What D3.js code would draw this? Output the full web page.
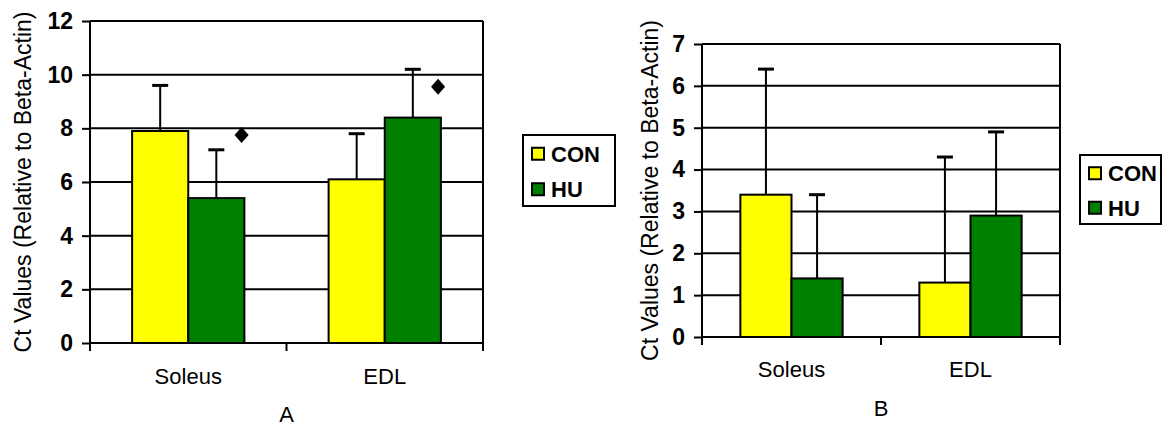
<!DOCTYPE html>
<meta charset="utf-8">
<title>Ct values</title>
<body>
<script src="https://cdn.jsdelivr.net/npm/d3@7"></script>
<style>
html, body {
    margin: 0;
    background: #fff;
}
svg {
    display: block;
    font-family: "Liberation Sans", Arial, sans-serif;
}
</style>
<script>
var categories = ["Soleus", "EDL"],
    series = ["CON", "HU"],
    colors = ["#ffff00", "#008000"];

// panel A
var aCon = [7.9, 6.1],
    aHu = [5.4, 8.4],
    aConSd = [1.7, 1.7],
    aHuSd = [1.8, 1.8],
    aMarks = [7.75, 9.55],
    aTicks = [0, 2, 4, 6, 8, 10, 12];

// panel B
var bCon = [3.4, 1.3],
    bHu = [1.4, 2.9],
    bConSd = [3.0, 3.0],
    bHuSd = [2.0, 2.0],
    bTicks = [0, 1, 2, 3, 4, 5, 6, 7];

var width = 1162,
    height = 426;

var svg = d3.select("body").append("svg")
    .attr("width", width)
    .attr("height", height);

drawPanel({
    left: 90, right: 483, top: 21, bottom: 343,
    ymax: 12, ticks: aTicks,
    values: [aCon, aHu], sds: [aConSd, aHuSd], marks: aMarks,
    labelX: 31, catY: 384,
    letter: "A", letterY: 422,
    legend: {x: 523, y: 135, w: 92, h: 71}
});

drawPanel({
    left: 702, right: 1060, top: 44, bottom: 337,
    ymax: 7, ticks: bTicks,
    values: [bCon, bHu], sds: [bConSd, bHuSd], marks: null,
    labelX: 658, catY: 377,
    letter: "B", letterY: 416,
    legend: {x: 1080, y: 155, w: 81, h: 69}
});

function drawPanel(c) {
    var g = svg.append("g");

    var x0 = d3.scaleBand()
        .domain(categories)
        .range([c.left, c.right])
        .paddingInner(0)
        .paddingOuter(0);

    var x1 = d3.scaleBand()
        .domain(series)
        .range([0, x0.bandwidth()])
        .paddingInner(0)
        .paddingOuter(0.75);

    var y = d3.scaleLinear()
        .domain([0, c.ymax])
        .range([c.bottom, c.top]);

    // gridlines
    g.append("g")
        .selectAll("line")
        .data(c.ticks.filter(function(d) { return d > 0; }))
        .enter().append("line")
        .attr("x1", c.left).attr("x2", c.right)
        .attr("y1", function(d) { return y(d); })
        .attr("y2", function(d) { return y(d); })
        .attr("stroke", "#000")
        .attr("stroke-width", 2);

    // right border
    g.append("line")
        .attr("x1", c.right).attr("x2", c.right)
        .attr("y1", c.top).attr("y2", c.bottom)
        .attr("stroke", "#000")
        .attr("stroke-width", 2);

    // y axis
    var yAxis = g.append("g")
        .attr("transform", "translate(" + c.left + ",0)")
        .call(d3.axisLeft(y).tickValues(c.ticks).tickSize(8).tickPadding(9).tickFormat(d3.format("d")));
    yAxis.select(".domain").attr("stroke-width", 2).attr("d", "M0," + c.top + "V" + c.bottom);
    yAxis.selectAll(".tick line").attr("stroke-width", 2);
    yAxis.selectAll(".tick text")
        .attr("font-family", "Liberation Sans, Arial, sans-serif")
        .attr("font-size", 23)
        .attr("font-weight", "bold")
        .attr("fill", "#000");

    // bars
    var groups = g.append("g")
        .selectAll("g")
        .data(categories)
        .enter().append("g")
        .attr("transform", function(d) { return "translate(" + x0(d) + ",0)"; });

    series.forEach(function(s, si) {
        groups.append("rect")
            .attr("x", x1(s))
            .attr("y", function(d, i) { return y(c.values[si][i]); })
            .attr("width", x1.bandwidth())
            .attr("height", function(d, i) { return y(0) - y(c.values[si][i]); })
            .attr("fill", colors[si])
            .attr("stroke", "#000")
            .attr("stroke-width", 2);

        var cx = x1(s) + x1.bandwidth() / 2;
        groups.append("line")
            .attr("x1", cx).attr("x2", cx)
            .attr("y1", function(d, i) { return y(c.values[si][i]); })
            .attr("y2", function(d, i) { return y(c.values[si][i] + c.sds[si][i]); })
            .attr("stroke", "#000")
            .attr("stroke-width", 2);
        groups.append("line")
            .attr("x1", cx - 8).attr("x2", cx + 8)
            .attr("y1", function(d, i) { return y(c.values[si][i] + c.sds[si][i]); })
            .attr("y2", function(d, i) { return y(c.values[si][i] + c.sds[si][i]); })
            .attr("stroke", "#000")
            .attr("stroke-width", 3);
    });

    // significance markers
    if (c.marks) {
        groups.append("path")
            .attr("d", d3.symbol().type(d3.symbolSquare).size(108))
            .attr("transform", function(d, i) {
                var mx = x1("HU") + x1.bandwidth() * 0.95;
                return "translate(" + mx + "," + y(c.marks[i]) + ") scale(0.96,1.1) rotate(45)";
            })
            .attr("fill", "#000");
    }

    // x axis
    g.append("line")
        .attr("x1", c.left).attr("x2", c.right)
        .attr("y1", c.bottom).attr("y2", c.bottom)
        .attr("stroke", "#000")
        .attr("stroke-width", 2);
    g.append("g")
        .selectAll("line")
        .data(d3.range(categories.length + 1))
        .enter().append("line")
        .attr("x1", function(i) { return c.left + i * x0.step(); })
        .attr("x2", function(i) { return c.left + i * x0.step(); })
        .attr("y1", c.bottom).attr("y2", c.bottom + 8)
        .attr("stroke", "#000")
        .attr("stroke-width", 2);

    g.append("g")
        .selectAll("text")
        .data(categories)
        .enter().append("text")
        .attr("x", function(d) { return x0(d) + x0.bandwidth() / 2; })
        .attr("y", c.catY)
        .attr("text-anchor", "middle")
        .attr("font-size", 22)
        .text(function(d) { return d; });

    // y label
    g.append("text")
        .attr("transform", "translate(" + c.labelX + "," + (c.top + c.bottom) / 2 + ") rotate(-90)")
        .attr("text-anchor", "middle")
        .attr("font-size", 23)
        .text("Ct Values (Relative to Beta-Actin)");

    g.append("text")
        .attr("x", (c.left + c.right) / 2)
        .attr("y", c.letterY)
        .attr("text-anchor", "middle")
        .attr("font-size", 22)
        .text(c.letter);

    // legend
    var lg = g.append("g")
        .attr("transform", "translate(" + c.legend.x + "," + c.legend.y + ")");
    lg.append("rect")
        .attr("width", c.legend.w)
        .attr("height", c.legend.h)
        .attr("fill", "#fff")
        .attr("stroke", "#000")
        .attr("stroke-width", 2);
    var rowH = c.legend.h / 2;
    series.forEach(function(s, si) {
        var cy = rowH * si + rowH / 2 + 1;
        lg.append("rect")
            .attr("x", 9)
            .attr("y", cy - 6)
            .attr("width", 12)
            .attr("height", 12)
            .attr("fill", colors[si])
            .attr("stroke", "#000")
            .attr("stroke-width", 2);
        lg.append("text")
            .attr("x", 28)
            .attr("y", cy + 8)
            .attr("font-size", 22)
            .attr("font-weight", "bold")
            .text(s);
    });
}
</script>
